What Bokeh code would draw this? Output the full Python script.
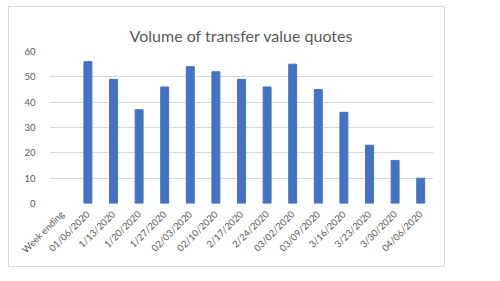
import math
from bokeh.plotting import figure
from bokeh.models import ColumnDataSource, FactorRange, Range1d, FixedTicker
from bokeh.embed import file_html
from bokeh.resources import INLINE

title_text = "Volume of transfer value quotes"
first_label = "Week ending"
weeks = ["01/06/2020", "1/13/2020", "1/20/2020", "1/27/2020", "02/03/2020",
         "02/10/2020", "2/17/2020", "2/24/2020", "03/02/2020", "03/09/2020",
         "3/16/2020", "3/23/2020", "3/30/2020", "04/06/2020"]
quotes = [56, 49, 37, 46, 54, 52, 49, 46, 55, 45, 36, 23, 17, 10]
y_ticks = [0, 10, 20, 30, 40, 50, 60]

FONT = "Lato"
GREY = "#595959"

src = ColumnDataSource(dict(week=weeks, quotes=quotes))

p = figure(width=437, height=261, output_backend="svg", toolbar_location=None,
           x_range=FactorRange(factors=[first_label] + weeks, range_padding=0),
           y_range=Range1d(0, 60),
           title=title_text,
           min_border_left=40, min_border_right=13, min_border_top=44,
           min_border_bottom=65,
           margin=(6, 0, 0, 8),
           styles={"border": "1px solid #d9d9d9", "box-sizing": "border-box"})

p.vbar(x="week", top="quotes", width=0.31, source=src,
       fill_color="#4472C4", line_color="#4472C4")

p.title.align = "center"
p.title.vertical_align = "top"
p.title.offset = -13
p.title.text_font = FONT
p.title.text_font_size = "16px"
p.title.text_font_style = "normal"
p.title.text_color = GREY

p.outline_line_color = None
p.xgrid.grid_line_color = None
p.ygrid.grid_line_color = "#d9d9d9"
p.ygrid.grid_line_width = 1

p.yaxis.ticker = FixedTicker(ticks=y_ticks)
for ax in (p.xaxis, p.yaxis):
    ax.axis_line_color = None
    ax.major_tick_line_color = None
    ax.minor_tick_line_color = None
    ax.major_label_text_font = FONT
    ax.major_label_text_color = GREY
    ax.major_label_text_font_size = "9.5px"
p.yaxis.major_label_standoff = 8
p.xaxis.major_label_orientation = math.pi / 4
p.xaxis.major_label_standoff = 3

open("out.html", "w").write(file_html(p, INLINE))
